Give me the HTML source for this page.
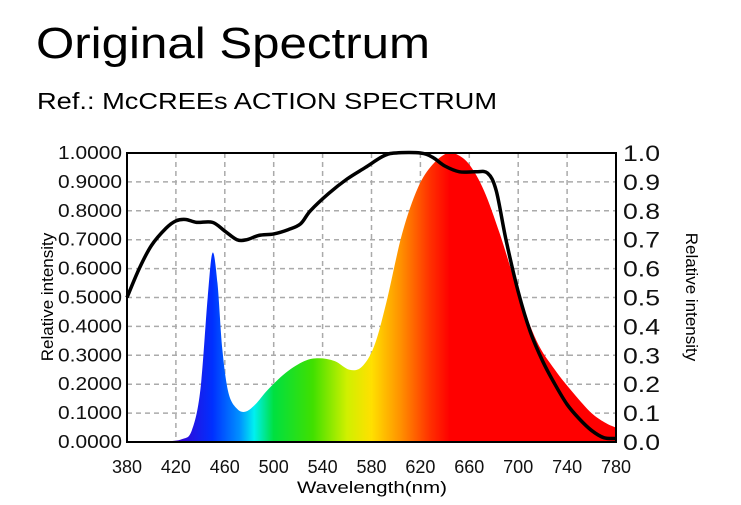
<!DOCTYPE html>
<html><head><meta charset="utf-8"><style>
body{margin:0;background:#fff;width:741px;height:500px;overflow:hidden;font-family:"Liberation Sans",sans-serif}
</style></head><body>
<svg id="s" width="741" height="500" xmlns="http://www.w3.org/2000/svg" font-family="Liberation Sans, sans-serif">
<text x="36" y="58" font-size="44" fill="#000" textLength="394" lengthAdjust="spacingAndGlyphs">Original Spectrum</text>
<text x="37" y="109" font-size="23" fill="#000" textLength="460" lengthAdjust="spacingAndGlyphs">Ref.: McCREEs ACTION SPECTRUM</text>
<defs>
<linearGradient id="g" gradientUnits="userSpaceOnUse" x1="127" y1="0" x2="616" y2="0">
<stop offset="0" stop-color="#5000a0"/>
<stop offset="0.1" stop-color="#3a00d0"/>
<stop offset="0.175" stop-color="#0030ff"/>
<stop offset="0.23" stop-color="#0090ff"/>
<stop offset="0.26" stop-color="#00f0f0"/>
<stop offset="0.3" stop-color="#00e040"/>
<stop offset="0.38" stop-color="#40e000"/>
<stop offset="0.45" stop-color="#d0f000"/>
<stop offset="0.5" stop-color="#ffe000"/>
<stop offset="0.56" stop-color="#ff9000"/>
<stop offset="0.62" stop-color="#ff3000"/>
<stop offset="0.66" stop-color="#ff0000"/>
<stop offset="1" stop-color="#ff0000"/>
</linearGradient>
</defs>
<g id="grid" stroke="#aaa" stroke-width="1.5" stroke-dasharray="5,4"></g>
<path id="spec" fill="url(#g)"/>
<path id="act" fill="none" stroke="#000" stroke-width="3.5" stroke-linejoin="round"/>
<rect x="127" y="153" width="489" height="289" fill="none" stroke="#000" stroke-width="2"/>
<g id="lab" font-size="18" fill="#111"></g>
<text x="372" y="493" font-size="17" text-anchor="middle" textLength="150" lengthAdjust="spacingAndGlyphs">Wavelength(nm)</text>
<text transform="translate(53,297) rotate(-90)" font-size="17" text-anchor="middle">Relative intensity</text>
<text transform="translate(686,297) rotate(90)" font-size="17" text-anchor="middle">Relative intensity</text>
</svg>
<script>
var L=127,T=153,W=489,H=289;
function X(w){return L+(w-380)/400*W}function Y(v){return T+H*(1-v)}
var ns="http://www.w3.org/2000/svg";
var g=document.getElementById('grid'),lab=document.getElementById('lab');
function el(p,t,a,txt){var e=document.createElementNS(ns,t);for(var k in a)e.setAttribute(k,a[k]);if(txt!=null)e.textContent=txt;p.appendChild(e);return e}
for(var w=420;w<780;w+=40)el(g,'line',{x1:X(w),x2:X(w),y1:T,y2:T+H});
for(var i=1;i<10;i++)el(g,'line',{x1:L,x2:L+W,y1:Y(i/10),y2:Y(i/10)});
for(var i=0;i<=10;i++){el(lab,'text',{x:122,y:Y(i/10)+6,'text-anchor':'end',textLength:64,lengthAdjust:'spacingAndGlyphs'},(i/10).toFixed(4));
el(lab,'text',{x:623,y:Y(i/10)+8,'font-size':22,textLength:37,lengthAdjust:'spacingAndGlyphs'},(i/10).toFixed(1));}
for(var w=380;w<=780;w+=40)el(lab,'text',{x:X(w),y:473,'text-anchor':'middle','font-size':18},w);
function smooth(pts){var d='M'+X(pts[0][0])+','+Y(pts[0][1]);for(var i=0;i<pts.length-1;i++){var p0=pts[i-1]||pts[i],p1=pts[i],p2=pts[i+1],p3=pts[i+2]||p2;
var a=[X(p0[0]),Y(p0[1])],b=[X(p1[0]),Y(p1[1])],c=[X(p2[0]),Y(p2[1])],e=[X(p3[0]),Y(p3[1])];
d+=' C'+(b[0]+(c[0]-a[0])/6)+','+(b[1]+(c[1]-a[1])/6)+' '+(c[0]-(e[0]-b[0])/6)+','+(c[1]-(e[1]-b[1])/6)+' '+c[0]+','+c[1];}return d}
var sp=[[380,0],[410,0.002],[425,0.01],[433,0.04],[440,0.18],[446,0.5],[450,0.655],[454,0.55],[458,0.32],[463,0.17],[470,0.115],[477,0.105],[485,0.13],[495,0.18],[510,0.24],[525,0.28],[537,0.29],[550,0.28],[562,0.25],[572,0.26],[582,0.33],[592,0.48],[605,0.72],[618,0.88],[630,0.96],[642,1.0],[650,0.995],[660,0.96],[672,0.87],[685,0.72],[700,0.52],[715,0.35],[730,0.25],[745,0.17],[760,0.1],[772,0.065],[780,0.05]];
document.getElementById('spec').setAttribute('d',smooth(sp)+' L'+X(780)+','+Y(0)+' L'+X(380)+','+Y(0)+'Z');
var ac=[[380,0.5],[390,0.6],[400,0.68],[412,0.74],[420,0.765],[428,0.77],[437,0.76],[450,0.76],[460,0.73],[470,0.7],[478,0.7],[488,0.715],[500,0.72],[512,0.735],[522,0.755],[530,0.8],[545,0.86],[560,0.91],[575,0.95],[590,0.99],[600,1.0],[620,1.0],[630,0.985],[640,0.955],[652,0.935],[665,0.935],[675,0.93],[682,0.87],[690,0.7],[700,0.52],[710,0.38],[720,0.28],[730,0.2],[740,0.13],[750,0.08],[760,0.04],[770,0.015],[780,0.012]];
document.getElementById('act').setAttribute('d',smooth(ac));
</script>
</body></html>
